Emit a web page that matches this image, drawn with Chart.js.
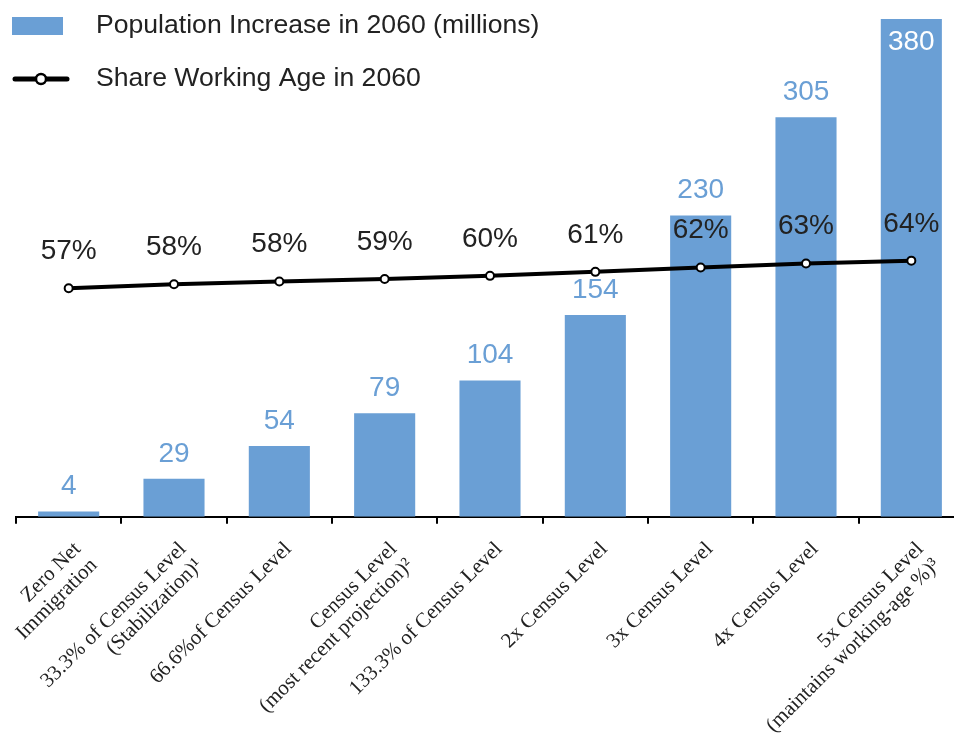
<!DOCTYPE html>
<html><head><meta charset="utf-8">
<script src="https://cdn.jsdelivr.net/npm/chart.js@4.4.1/dist/chart.umd.min.js"></script>
<style>
html,body{margin:0;padding:0;overflow:hidden;background:#fff;width:954px;height:753px}
#wrap{width:964px;height:753px}
canvas{display:block}
</style></head>
<body><div id="wrap"><canvas id="c" width="964" height="753"></canvas></div>
<script>
const categories = [
  ["Zero Net", "Immigration"],
  ["33.3% of Census Level", "(Stabilization)\u00B9"],
  ["66.6%of Census Level"],
  ["Census Level", "(most recent projection)\u00B2"],
  ["133.3% of Census Level"],
  ["2x Census Level"],
  ["3x Census Level"],
  ["4x Census Level"],
  ["5x Census Level", "(maintains working-age %)\u00B3"]
];
const populationIncrease = [4, 29, 54, 79, 104, 154, 230, 305, 380];
const shareWorkingAge = [57.1, 58.1, 58.8, 59.4, 60.2, 61.2, 62.3, 63.3, 64.0];
const shareLabels = ["57%", "58%", "58%", "59%", "60%", "61%", "62%", "63%", "64%"];
const seriesNames = ["Population Increase in 2060 (millions)", "Share Working Age in 2060"];

const BLUE = '#6a9fd5';
const TEXT = '#222222';
const SANS = '"Liberation Sans", Arial, Helvetica, sans-serif';

const labelPlugin = {
  id: 'valueLabels',
  afterDatasetsDraw(chart) {
    const ctx = chart.ctx;
    const lineMeta = chart.getDatasetMeta(0);
    const barMeta = chart.getDatasetMeta(1);
    ctx.save();
    ctx.font = '28px ' + SANS;
    ctx.textAlign = 'center';
    ctx.textBaseline = 'alphabetic';
    barMeta.data.forEach((el, i) => {
      let y = el.y - 17;
      let color = BLUE;
      if (y - 21 < 0) { y = el.y + 31; color = '#ffffff'; }
      ctx.fillStyle = color;
      ctx.fillText(String(populationIncrease[i]), el.x, y);
    });
    ctx.fillStyle = TEXT;
    lineMeta.data.forEach((pt, i) => {
      ctx.fillText(shareLabels[i], pt.x, pt.y - 29);
    });
    ctx.restore();
  },
  afterDraw(chart) {
    const ctx = chart.ctx;
    ctx.save();
    ctx.fillStyle = BLUE;
    ctx.fillRect(12, 17, 51, 18);
    ctx.strokeStyle = '#000';
    ctx.lineWidth = 5;
    ctx.lineCap = 'round';
    ctx.beginPath(); ctx.moveTo(15, 79); ctx.lineTo(67, 79); ctx.stroke();
    ctx.beginPath(); ctx.arc(41, 79, 5, 0, Math.PI * 2);
    ctx.fillStyle = '#fff'; ctx.fill();
    ctx.lineWidth = 2.5; ctx.stroke();
    ctx.fillStyle = TEXT;
    ctx.font = '26.6px ' + SANS;
    ctx.textAlign = 'left';
    ctx.textBaseline = 'middle';
    ctx.fillText(seriesNames[0], 96, 26);
    ctx.fillText(seriesNames[1], 96, 79);
    ctx.restore();
  }
};

new Chart(document.getElementById('c'), {
  data: {
    labels: categories,
    datasets: [
      {
        type: 'line',
        label: seriesNames[1],
        data: shareWorkingAge,
        yAxisID: 'y2',
        borderColor: '#000',
        borderWidth: 4,
        tension: 0,
        pointRadius: 4,
        pointBorderWidth: 2,
        pointBackgroundColor: '#fff',
        pointBorderColor: '#000',
        clip: false,
        order: 0
      },
      {
        type: 'bar',
        label: seriesNames[0],
        data: populationIncrease,
        yAxisID: 'y',
        backgroundColor: BLUE,
        barPercentage: 0.58,
        categoryPercentage: 1.0,
        order: 1
      }
    ]
  },
  options: {
    responsive: false,
    animation: false,
    devicePixelRatio: 1,
    layout: { autoPadding: false, padding: { left: 16, right: 0, top: 19, bottom: 0 } },
    plugins: { legend: { display: false }, tooltip: { enabled: false } },
    scales: {
      x: {
        offset: true,
        grid: {
          offset: true,
          drawOnChartArea: false,
          drawTicks: true,
          tickLength: 7,
          color: '#000',
          lineWidth: 2
        },
        border: { display: true, color: '#000', width: 2 },
        ticks: {
          autoSkip: false,
          maxRotation: 45,
          minRotation: 45,
          padding: 14,
          labelOffset: 9,
          color: TEXT,
          font: { family: '"Liberation Serif", "Times New Roman", serif', size: 21, lineHeight: 1.1 }
        },
        afterFit(scale) {
          scale.height = 236.3;
          scale.paddingLeft = 0;
          scale.paddingRight = 0;
          scale.paddingTop = 0;
          scale.paddingBottom = 0;
        }
      },
      y: { display: false, min: 0, max: 380 },
      y2: { display: false, min: 0, max: 124.4 }
    }
  },
  plugins: [labelPlugin]
});
</script>
</body></html>
